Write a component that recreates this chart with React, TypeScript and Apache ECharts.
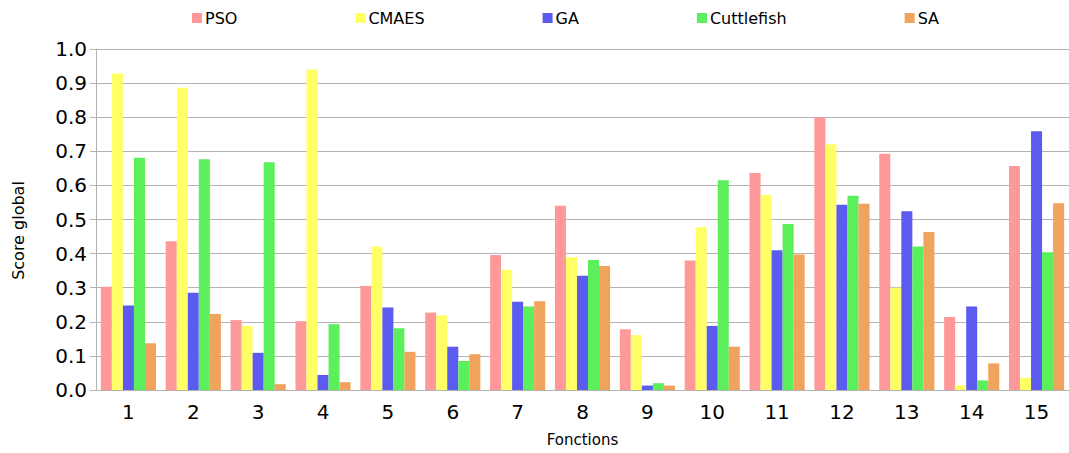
import React, { useEffect, useRef } from "react";
import * as echarts from "echarts";

const categories = ["1", "2", "3", "4", "5", "6", "7", "8", "9", "10", "11", "12", "13", "14", "15"];
const psoValues = [0.303, 0.436, 0.205, 0.202, 0.305, 0.227, 0.396, 0.54, 0.178, 0.38, 0.636, 0.799, 0.693, 0.214, 0.657];
const cmaesValues = [0.928, 0.886, 0.188, 0.94, 0.421, 0.219, 0.353, 0.389, 0.161, 0.477, 0.572, 0.721, 0.3, 0.014, 0.036];
const gaValues = [0.248, 0.285, 0.109, 0.044, 0.242, 0.127, 0.259, 0.335, 0.013, 0.188, 0.41, 0.543, 0.524, 0.245, 0.759];
const cuttlefishValues = [0.681, 0.677, 0.668, 0.193, 0.181, 0.085, 0.245, 0.381, 0.02, 0.615, 0.487, 0.57, 0.421, 0.028, 0.404];
const saValues = [0.137, 0.223, 0.017, 0.023, 0.112, 0.105, 0.26, 0.364, 0.013, 0.127, 0.397, 0.546, 0.463, 0.078, 0.548];

const seriesNames = ["PSO", "CMAES", "GA", "Cuttlefish", "SA"];
const seriesColors = ["#ff9999", "#ffff66", "#5b5bef", "#5bef5b", "#f0a35c"];
const seriesData = [psoValues, cmaesValues, gaValues, cuttlefishValues, saValues];

const FONT = "DejaVu Sans";

export default function App() {
  const ref = useRef<HTMLDivElement>(null);
  useEffect(() => {
    if (!ref.current) return;
    const chart = echarts.init(ref.current, null, { renderer: "svg" });
    chart.setOption({
      animation: false,
      backgroundColor: "#ffffff",
      textStyle: { fontFamily: FONT },
      legend: {
        top: 5,
        left: 187,
        itemWidth: 10,
        itemHeight: 10,
        itemGap: 118,
        icon: "rect",
        textStyle: { fontFamily: FONT, fontSize: 16, color: "#000", padding: [0, 0, 0, -2] },
        data: seriesNames,
      },
      grid: { left: 96, top: 49, bottom: 63, width: 975, containLabel: false },
      xAxis: {
        type: "category",
        data: categories,
        name: "Fonctions",
        nameLocation: "middle",
        nameGap: 42,
        nameTextStyle: { fontFamily: FONT, fontSize: 15, color: "#000" },
        axisLine: { lineStyle: { color: "#b3b3b3" } },
        axisTick: { length: 6, lineStyle: { color: "#b3b3b3" } },
        axisLabel: { fontFamily: FONT, fontSize: 20, color: "#000", margin: 12 },
      },
      yAxis: {
        type: "value",
        min: 0,
        max: 1,
        interval: 0.1,
        name: "Score global",
        nameLocation: "middle",
        nameGap: 70,
        nameTextStyle: { fontFamily: FONT, fontSize: 16, color: "#000", padding: [0, 22, 0, 0] },
        axisLine: { show: true, lineStyle: { color: "#b3b3b3" } },
        axisTick: { show: true, length: 6, lineStyle: { color: "#b3b3b3" } },
        axisLabel: {
          fontFamily: FONT,
          fontSize: 20,
          color: "#000",
          margin: 9,
          formatter: (v: number) => v.toFixed(1),
        },
        splitLine: { lineStyle: { color: "#b3b3b3" } },
      },
      series: seriesNames.map((name, i) => ({
        name,
        type: "bar",
        data: seriesData[i],
        barGap: "0%",
        barCategoryGap: "15%",
        itemStyle: { color: seriesColors[i] },
      })),
    });
    return () => chart.dispose();
  }, []);
  return (
    <div
      ref={ref}
      style={{ position: "fixed", left: 0, top: 0, width: 1069, height: 453 }}
    />
  );
}
